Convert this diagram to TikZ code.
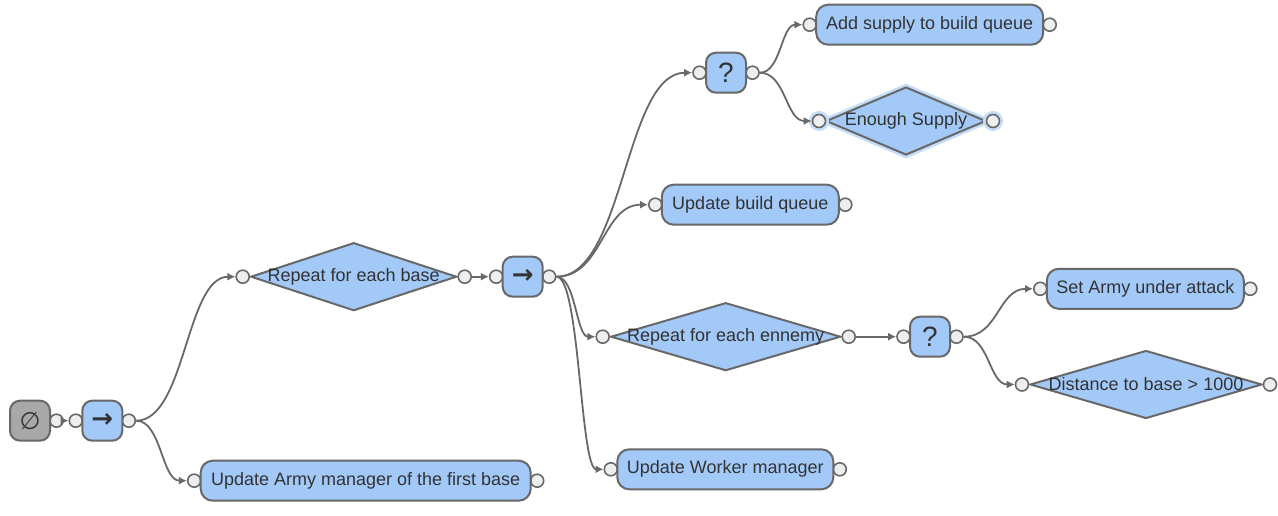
\documentclass[tikz,border=0pt]{standalone}
\usepackage{fontspec}
\setmainfont{Liberation Sans}
\newfontfamily\symfont{DejaVu Sans}
\usepackage{tikz}
\usetikzlibrary{arrows.meta}
\usetikzlibrary{shapes.geometric}
\usetikzlibrary{calc,backgrounds}

\definecolor{boxblue}{RGB}{162,201,248}
\definecolor{linegray}{RGB}{104,104,104}
\definecolor{portfill}{RGB}{238,238,238}
\definecolor{rootgray}{RGB}{168,168,168}
\definecolor{textdark}{RGB}{51,51,51}
\definecolor{glowblue}{RGB}{196,222,250}

\tikzset{
  task/.style={draw=linegray, fill=boxblue, line width=2pt, rounded corners=12pt, minimum height=40pt, inner sep=0pt},
  ctrl/.style={task, rounded corners=10pt, minimum width=40pt},
  cond/.style={diamond, draw=linegray, fill=boxblue, line width=2pt, inner sep=0pt, minimum height=68pt},
  port/.style={circle, draw=linegray, fill=portfill, line width=1.6pt, minimum size=13pt, inner sep=0pt},
  link/.style={draw=linegray, line width=1.8pt, ->, >={Latex[length=8pt,width=8pt]}},
  glow/.style={preaction={draw=glowblue, line width=7pt}},
}

\begin{document}
\begin{tikzpicture}[x=1pt, y=-1pt, font=\fontsize{18}{22}\selectfont, text=textdark]
\useasboundingbox (0,0) rectangle (1278,516);

% composites
\node[ctrl, fill=rootgray] (root) at (30,420.7) {\symfont\fontsize{24}{24}\selectfont ∅};
\node[ctrl] (seqA) at (102.3,420.7) {\symfont\bfseries\fontsize{26}{26}\selectfont →};
\node[ctrl] (seqB) at (522.7,276.7) {\symfont\bfseries\fontsize{26}{26}\selectfont →};
\node[ctrl] (selA) at (726,72.7) {\fontsize{28}{28}\selectfont ?};
\node[ctrl] (selB) at (930,336.7) {\fontsize{28}{28}\selectfont ?};

% actions
\node[task, minimum width=227] (addSupply) at (929.7,24.7) {Add supply to build queue};
\node[task, minimum width=177] (buildQueue) at (750.3,204.7) {Update build queue};
\node[task, minimum width=197] (armyAttack) at (1145.3,288.8) {Set Army under attack};
\node[task, minimum width=216] (workerMgr) at (725.3,469.3) {Update Worker manager};
\node[task, minimum width=330] (armyMgr) at (365.7,480.7) {Update Army manager of the first base};

% conditions / loops
\node[cond, minimum width=206, label=center:Repeat for each base] (eachBase) at (353.7,276.7) {};
\node[cond, minimum width=230, label=center:Repeat for each ennemy] (eachEnemy) at (725.7,336.7) {};
\node[cond, minimum width=232, label=center:Distance to base > 1000] (distBase) at (1146,384.5) {};
\node[cond, glow, minimum width=160, label=center:Enough Supply] (enoughSupply) at (906,121) {};

% ports
\begin{scope}[on background layer]
\foreach \n in {seqA,seqB,selA,selB,addSupply,buildQueue,armyAttack,workerMgr,armyMgr} {
  \node[port] (\n-in) at ([xshift=-5.5]\n.west) {};
  \node[port] (\n-out) at ([xshift=5.5]\n.east) {};
}
\node[port] (root-out) at ([xshift=5.5]root.east) {};
\end{scope}
\foreach \n in {eachBase,eachEnemy,distBase} {
  \node[port] (\n-in) at ([xshift=-7]\n.west) {};
  \node[port] (\n-out) at ([xshift=7]\n.east) {};
}
\node[port, glow] (enoughSupply-in) at ([xshift=-6]enoughSupply.west) {};
\node[port, glow] (enoughSupply-out) at ([xshift=6]enoughSupply.east) {};

% links
\foreach \a/\b in {root/seqA, seqA/eachBase, seqA/armyMgr, eachBase/seqB, seqB/selA, seqB/buildQueue, seqB/eachEnemy, seqB/workerMgr, selA/addSupply, selA/enoughSupply, eachEnemy/selB, selB/armyAttack, selB/distBase}
  \draw[link] let \p1=(\a-out.east), \p2=(\b-in.west), \n1={(\x2-\x1)/2} in (\p1) .. controls +(\n1,0) and +(-\n1,0) .. (\p2);
\end{tikzpicture}
\end{document}
